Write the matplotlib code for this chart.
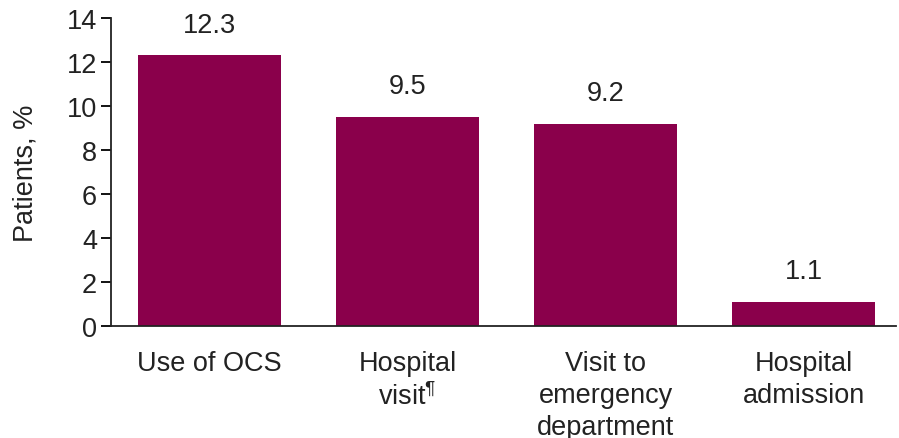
import matplotlib
matplotlib.use('Agg')
import matplotlib.pyplot as plt

plt.rcParams['font.family'] = ['Liberation Sans', 'DejaVu Sans']
plt.rcParams['mathtext.fontset'] = 'custom'
plt.rcParams['mathtext.rm'] = 'Liberation Sans'
plt.rcParams['mathtext.default'] = 'regular'

categories = ['Use of OCS', 'Hospital\nvisit$^{¶}$', 'Visit to\nemergency\ndepartment', 'Hospital\nadmission']
values = [12.3, 9.5, 9.2, 1.1]
value_labels = ['12.3', '9.5', '9.2', '1.1']
yticks = [0, 2, 4, 6, 8, 10, 12, 14]

fs = 19.5
fig = plt.figure(figsize=(8.99, 4.39), dpi=100)
ax = fig.add_axes([0.1235, 0.255, 0.8732, 0.702])

x = range(len(values))
ax.bar(x, values, width=0.72, color='#8A004B')
for xi, v, lab in zip(x, values, value_labels):
    ax.text(xi, v + 0.8, lab, ha='center', va='bottom', fontsize=fs, color='#222222')

ax.set_xlim(-0.497, 3.467)
ax.set_ylim(0, 14)
ax.set_yticks(yticks)
ax.set_xticks(list(x))
ax.set_xticklabels(categories, fontsize=fs, color='#222222', linespacing=1.3)
ax.tick_params(axis='x', length=0, pad=17)
ax.tick_params(axis='y', length=7, width=1.3, labelsize=fs, labelcolor='#222222', pad=3)
ax.set_ylabel('Patients, %', fontsize=fs, color='#222222', labelpad=20)

for s in ['top', 'right']:
    ax.spines[s].set_visible(False)
for s in ['left', 'bottom']:
    ax.spines[s].set_linewidth(1.3)
    ax.spines[s].set_color('#222222')

fig.savefig('out.png', dpi=100)
